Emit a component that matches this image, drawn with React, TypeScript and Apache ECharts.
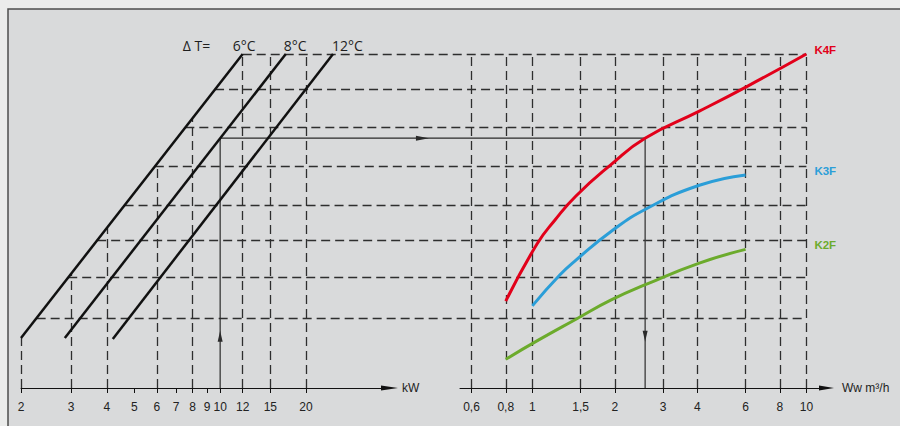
import React, { useEffect, useRef } from 'react';
import * as echarts from 'echarts';

// ---------- data ----------
const KW_TICKS = [2, 3, 4, 5, 6, 7, 8, 9, 10, 12, 15, 20];
const KW_GRID_TICKS = [2, 3, 4, 6, 8, 12, 15, 20];
const FLOW_TICKS = [0.6, 0.8, 1, 1.5, 2, 3, 4, 6, 8, 10];
const H_LEVELS = [10, 8.94, 7.8, 6.63, 5.47, 4.42, 3.31, 2.1];

const DT_LABELS = ['6°C', '8°C', '12°C'];
const DT_START_KW = [2, 2.85, 4.2];
const DT_END_KW = [12, 17, 24.9];
const DT_START_LEVEL = [1.5, 1.5, 1.47];
const DT_END_LEVEL = [10, 10, 10];

const K4F_FLOW = [0.8, 1.04, 1.21, 1.443, 1.932, 2.578, 4.068, 6.108, 10];
const K4F_LEVEL = [2.6, 4.31, 5.03, 5.75, 6.68, 7.48, 8.29, 9.04, 10];
const K3F_FLOW = [1, 1.262, 1.443, 1.932, 2.599, 4.068, 6];
const K3F_LEVEL = [2.46, 3.39, 3.83, 4.68, 5.36, 6.07, 6.38];
const K2F_FLOW = [0.8, 1.04, 1.443, 1.932, 2.599, 4.068, 6];
const K2F_LEVEL = [0.86, 1.41, 2.06, 2.63, 3.1, 3.74, 4.15];
const CURVE_NAMES = ['K4F', 'K3F', 'K2F'];

const OP_KW = 10;
const OP_FLOW = 2.58;
const OP_LEVEL = 7.48;
const ARROW_LEVEL = 1.55;
const ARROW_FRAC = 0.476;

// ---------- styles / layout ----------
const RED = '#e2001a';
const BLUE = '#2b9ed8';
const GREEN = '#6cab2c';
const CURVE_COLORS = [RED, BLUE, GREEN];
const DARK = '#1e1e1e';
const GRID_DASH = '#2e2e2e';
const FONT = 'Liberation Sans, Arial, sans-serif';
const TITLE_FONT = 'Open Sans, DejaVu Sans, sans-serif';
const DT_LABEL_DX = [-10, -2, -1];

const log10 = (v: number) => Math.log(v) / Math.LN10;

function dtLevelAt(i: number, kw: number) {
  const t = (log10(kw) - log10(DT_START_KW[i])) / (log10(DT_END_KW[i]) - log10(DT_START_KW[i]));
  return DT_START_LEVEL[i] + t * (DT_END_LEVEL[i] - DT_START_LEVEL[i]);
}
function dtKwAt(i: number, level: number) {
  const t = (level - DT_START_LEVEL[i]) / (DT_END_LEVEL[i] - DT_START_LEVEL[i]);
  return Math.pow(10, log10(DT_START_KW[i]) + t * (log10(DT_END_KW[i]) - log10(DT_START_KW[i])));
}

const fmt = (v: number) => String(+(+v).toFixed(2)).replace('.', ',');
const TOP = Math.max(...H_LEVELS);
const DASH_STYLE = { color: GRID_DASH, width: 1.3, type: [9, 5], opacity: 1 };

function baseOption(): any {
  const axisCommon = (extra: any) => ({
    axisLine: { show: true, onZero: false, lineStyle: { color: '#111', width: 1 } },
    splitLine: { show: false },
    minorTick: { show: false },
    minorSplitLine: { show: false },
    nameLocation: 'end',
    nameTextStyle: { color: '#222', fontSize: 12, fontFamily: FONT, align: 'left', verticalAlign: 'middle' },
    ...extra,
  });
  const gridCommon = { top: 54, height: 334, containLabel: false, outerBoundsMode: 'none' };
  const curves = [
    [K4F_FLOW, K4F_LEVEL],
    [K3F_FLOW, K3F_LEVEL],
    [K2F_FLOW, K2F_LEVEL],
  ];
  return {
    animation: false,
    backgroundColor: '#ebeceb',
    grid: [
      { ...gridCommon, left: 21, width: 368.5 },
      { ...gridCommon, left: 460, width: 366.5 },
      { ...gridCommon, left: 0, width: 900 },
    ],
    xAxis: [
      axisCommon({
        type: 'log', logBase: 10, gridIndex: 0, min: 2, max: 39.3,
        name: 'kW', nameGap: 12.5,
        axisLine: { show: true, onZero: false, lineStyle: { color: '#111', width: 1 }, symbol: ['none', 'triangle'], symbolSize: [5, 17] },
        axisTick: { show: true, customValues: KW_TICKS, length: 5, inside: false, lineStyle: { color: '#111', width: 1 } },
        axisLabel: { show: true, customValues: KW_TICKS, formatter: fmt, color: '#222', fontSize: 12, fontFamily: FONT, margin: 13, hideOverlap: false },
      }),
      axisCommon({
        type: 'log', logBase: 10, gridIndex: 1, min: 0.5447, max: 11.84,
        name: 'Ww m³/h', nameGap: 15.5,
        axisLine: { show: true, onZero: false, lineStyle: { color: '#111', width: 1 }, symbol: ['none', 'triangle'], symbolSize: [5, 15] },
        axisTick: { show: true, customValues: FLOW_TICKS, length: 5, inside: false, lineStyle: { color: '#111', width: 1 } },
        axisLabel: { show: true, customValues: FLOW_TICKS, formatter: fmt, color: '#222', fontSize: 12, fontFamily: FONT, margin: 13, hideOverlap: false },
      }),
      { type: 'value', gridIndex: 2, min: 0, max: 900, show: false },
    ],
    yAxis: [0, 1, 2].map((g) => ({ type: 'value', gridIndex: g, min: 0, max: 10, show: false })),
    series: [
      {
        type: 'lines', xAxisIndex: 0, yAxisIndex: 0, coordinateSystem: 'cartesian2d', z: 1, clip: false,
        lineStyle: DASH_STYLE, silent: true,
        data: KW_GRID_TICKS.map((v) => ({ coords: [[v, 0], [v, Math.min(TOP, dtLevelAt(0, v))]] })),
      },
      {
        type: 'lines', xAxisIndex: 1, yAxisIndex: 1, coordinateSystem: 'cartesian2d', z: 1, clip: false,
        lineStyle: DASH_STYLE, silent: true,
        data: FLOW_TICKS.map((v) => ({ coords: [[v, 0], [v, TOP]] })),
      },
      ...DT_LABELS.map((name, i) => ({
        type: 'line', name, xAxisIndex: 0, yAxisIndex: 0, z: 3, clip: false, symbol: 'none', silent: true,
        lineStyle: { color: '#111', width: 2.5 },
        data: [[DT_START_KW[i], DT_START_LEVEL[i]], [DT_END_KW[i], DT_END_LEVEL[i]]],
      })),
      {
        type: 'line', xAxisIndex: 0, yAxisIndex: 0, z: 2, clip: false, symbol: 'none', silent: true,
        lineStyle: { color: '#2a2a2a', width: 1.2 }, itemStyle: { color: '#2a2a2a' },
        data: [[OP_KW, 0], { value: [OP_KW, ARROW_LEVEL], symbol: 'triangle', symbolSize: [5, 11], symbolRotate: 0 }, [OP_KW, OP_LEVEL]],
      },
      {
        type: 'line', xAxisIndex: 1, yAxisIndex: 1, z: 2, clip: false, symbol: 'none', silent: true,
        lineStyle: { color: '#3a3a3a', width: 1.3 }, itemStyle: { color: '#2a2a2a' },
        data: [[OP_FLOW, OP_LEVEL], { value: [OP_FLOW, ARROW_LEVEL], symbol: 'triangle', symbolSize: [5, 11], symbolRotate: 180 }, [OP_FLOW, 0]],
      },
      ...curves.map(([xs, ys], i) => ({
        type: 'line', name: CURVE_NAMES[i], xAxisIndex: 1, yAxisIndex: 1, z: 4, clip: false, symbol: 'none', silent: true,
        smooth: 0.5,
        lineStyle: { color: CURVE_COLORS[i], width: 3 },
        data: xs.map((x, j) => [x, ys[j]]),
      })),
    ],
  };
}

export default function App() {
  const ref = useRef<HTMLDivElement>(null);
  useEffect(() => {
    document.body.style.margin = '0';
    const chart = echarts.init(ref.current!, null, { renderer: 'svg', width: 900, height: 426 });
    const opt = baseOption();
    chart.setOption(opt);
    const toPx = (g: number, p: number[]) => chart.convertToPixel({ gridIndex: g } as any, p) as unknown as number[];

    const flowEnd = FLOW_TICKS[FLOW_TICKS.length - 1];
    const hData = H_LEVELS.map((L) => {
      const x1 = toPx(0, [dtKwAt(0, L), L])[0];
      const x2 = toPx(1, [flowEnd, L])[0];
      return { coords: [[x1, L], [x2, L]] };
    });
    const opX1 = toPx(0, [OP_KW, OP_LEVEL])[0];
    const opX2 = toPx(1, [OP_FLOW, OP_LEVEL])[0];
    const opXa = opX1 + ARROW_FRAC * (opX2 - opX1);

    opt.series.push(
      {
        type: 'lines', xAxisIndex: 2, yAxisIndex: 2, coordinateSystem: 'cartesian2d', z: 1, clip: false,
        lineStyle: DASH_STYLE, silent: true,
        data: hData,
      },
      {
        type: 'line', xAxisIndex: 2, yAxisIndex: 2, z: 2, clip: false, symbol: 'none', silent: true,
        lineStyle: { color: '#2a2a2a', width: 1.2 }, itemStyle: { color: '#2a2a2a' },
        data: [[opX1, OP_LEVEL], { value: [opXa, OP_LEVEL], symbol: 'triangle', symbolSize: [5, 13], symbolRotate: -90 }, [opX2, OP_LEVEL]],
      }
    );

    const graphics: any[] = [
      { type: 'rect', z: -100, silent: true, shape: { x: 8, y: 9, width: 900, height: 430 }, style: { fill: '#d9dadb', stroke: '#4d4d4d', lineWidth: 1.5 } },
    ];
    const tops = DT_LABELS.map((_, i) => toPx(0, [DT_END_KW[i], DT_END_LEVEL[i]]));
    DT_LABELS.forEach((t, i) => {
      graphics.push({
        type: 'text', z: 10, silent: true, x: tops[i][0] + DT_LABEL_DX[i], y: tops[i][1] - 9,
        style: { text: t, fill: DARK, fontSize: 14, fontFamily: TITLE_FONT, textAlign: 'left', textVerticalAlign: 'middle', verticalAlign: 'middle' },
      });
    });
    graphics.push({
      type: 'text', z: 10, silent: true, x: tops[0][0] + DT_LABEL_DX[0] - 50, y: tops[0][1] - 9,
      style: { text: 'Δ T=', fill: DARK, fontSize: 14, fontFamily: TITLE_FONT, textAlign: 'left', textVerticalAlign: 'middle', verticalAlign: 'middle' },
    });
    const curveEnds = [
      [K4F_FLOW[K4F_FLOW.length - 1], K4F_LEVEL[K4F_LEVEL.length - 1]],
      [K3F_FLOW[K3F_FLOW.length - 1], K3F_LEVEL[K3F_LEVEL.length - 1]],
      [K2F_FLOW[K2F_FLOW.length - 1], K2F_LEVEL[K2F_LEVEL.length - 1]],
    ];
    CURVE_NAMES.forEach((n, i) => {
      const xLab = toPx(1, [flowEnd, curveEnds[i][1]])[0] + 8;
      const yLab = toPx(1, curveEnds[i])[1] - 4;
      graphics.push({
        type: 'text', z: 10, silent: true, x: xLab, y: yLab,
        style: { text: n, fill: CURVE_COLORS[i], fontSize: 11.5, fontWeight: 'bold', fontFamily: FONT, textAlign: 'left', textVerticalAlign: 'middle', verticalAlign: 'middle' },
      });
    });
    opt.graphic = graphics;
    chart.setOption(opt, { notMerge: true });
    return () => chart.dispose();
  }, []);
  return <div ref={ref} style={{ width: 900, height: 426 }} />;
}
